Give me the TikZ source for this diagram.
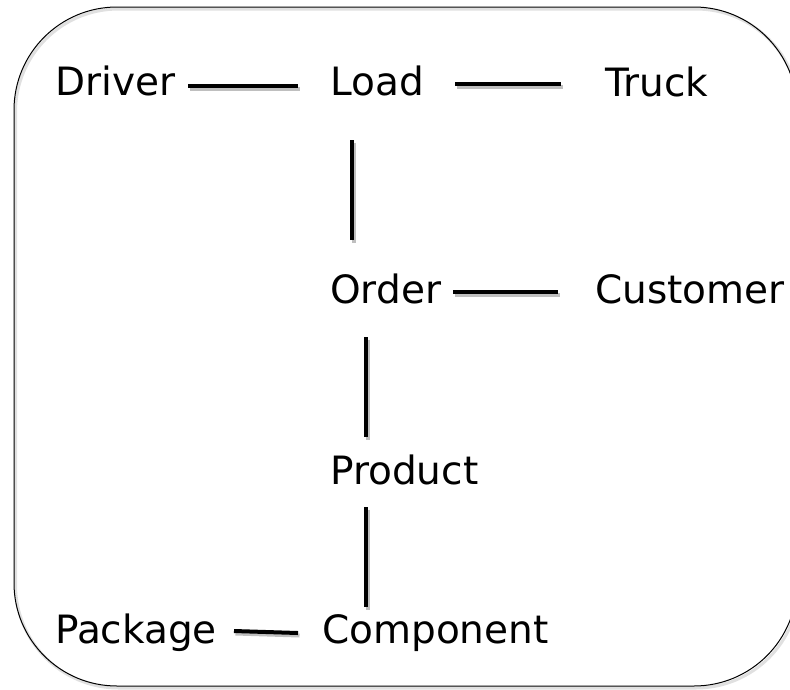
\documentclass[tikz,border=0pt]{standalone}
\usepackage{fontspec}
\setmainfont{DejaVu Sans}
\begin{document}
\begin{tikzpicture}[x=1pt,y=-1pt,
  lbl/.style={anchor=base west,inner sep=0pt,font=\fontsize{39}{44}\selectfont},
  link/.style={line width=4pt,black},
  linkshadow/.style={line width=4pt,black!25}]
\useasboundingbox (0,0) rectangle (790,689);
% frame
\begin{scope}
\clip (0,0) rectangle (790,689);
\draw[black!12,line width=3pt,rounded corners=103pt] (15.5,9) rectangle (799,688);
\draw[black,line width=1pt,rounded corners=103pt] (14,7) rectangle (797,686);
\end{scope}
% labels
\node[lbl] (driver) at (55,95) {Driver};
\node[lbl] (load) at (330,95) {Load};
\node[lbl] (truck) at (605,96) {Truck};
\node[lbl] (order) at (330,303) {Order};
\node[lbl] (customer) at (595,303) {Customer};
\node[lbl] (product) at (330,484) {Product};
\node[lbl] (component) at (322,643) {Component};
\node[lbl] (package) at (55,643) {Package};
% connector end points
\coordinate (dl1) at (188,86);  \coordinate (dl2) at (298,86);
\coordinate (lt1) at (455,84);  \coordinate (lt2) at (561,84);
\coordinate (lo1) at (352,140); \coordinate (lo2) at (352,240);
\coordinate (oc1) at (453,292); \coordinate (oc2) at (558,292);
\coordinate (op1) at (366,337); \coordinate (op2) at (366,437);
\coordinate (pc1) at (366,507); \coordinate (pc2) at (366,607);
\coordinate (kc1) at (234,631); \coordinate (kc2) at (298,633);
% soft shadows under the connectors
\foreach \a/\b in {dl1/dl2,lt1/lt2,lo1/lo2,oc1/oc2,op1/op2,pc1/pc2,kc1/kc2}
  \draw[linkshadow] ([shift={(1.5,2.5)}]\a) -- ([shift={(1.5,2.5)}]\b);
% connectors
\draw[link] (dl1) -- (dl2);
\draw[link] (lt1) -- (lt2);
\draw[link] (lo1) -- (lo2);
\draw[link] (oc1) -- (oc2);
\draw[link] (op1) -- (op2);
\draw[link] (pc1) -- (pc2);
\draw[link] (kc1) -- (kc2);
\end{tikzpicture}
\end{document}
